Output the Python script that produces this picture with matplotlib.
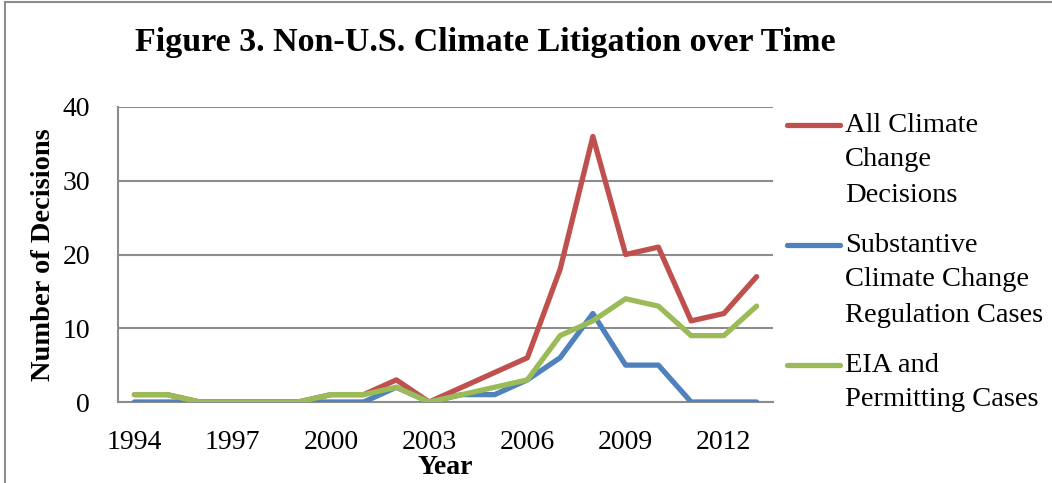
import matplotlib
matplotlib.use("Agg")
import matplotlib.pyplot as plt
from matplotlib.lines import Line2D
from matplotlib.patches import Rectangle

plt.rcParams["font.family"] = ["Liberation Serif", "DejaVu Serif"]

years = list(range(1994, 2014))
all_decisions = [1, 1, 0, 0, 0, 0, 1, 1, 3, 0, 2, 4, 6, 18, 36, 20, 21, 11, 12, 17]
substantive = [0, 0, 0, 0, 0, 0, 0, 0, 2, 0, 1, 1, 3, 6, 12, 5, 5, 0, 0, 0]
eia_permitting = [1, 1, 0, 0, 0, 0, 1, 1, 2, 0, 1, 2, 3, 9, 11, 14, 13, 9, 9, 13]
series_names = [["All Climate", "Change", "Decisions"],
                ["Substantive", "Climate Change", "Regulation Cases"],
                ["EIA and", "Permitting Cases"]]
colors = ["#C0504D", "#4F81BD", "#9BBB59"]
xtick_years = [1994, 1997, 2000, 2003, 2006, 2009, 2012]

W, H = 1052, 483
fig = plt.figure(figsize=(W / 100, H / 100), dpi=100)

# chart area border (cut off at right/bottom like the source)
fig.add_artist(Rectangle((5 / W, -0.1), 1.2, 1.1 - 2.5 / H, transform=fig.transFigure,
                         fill=False, edgecolor="#8c8c8c", linewidth=1.5))

ax = fig.add_axes([118 / W, (H - 402) / H, (773 - 118) / W, (402 - 107) / H])

for vals, c in zip([all_decisions, substantive, eia_permitting], colors):
    ax.plot(years, vals, color=c, linewidth=3.8, solid_capstyle="round",
            solid_joinstyle="round", zorder=3)

ax.set_xlim(1993.5, 2013.5)
ax.set_ylim(0, 40)
ax.set_yticks([0, 10, 20, 30, 40])
ax.set_xticks(xtick_years)
ax.grid(True, axis="y", color="#8c8c8c", linewidth=1.5)
ax.set_axisbelow(True)
for s in ["top", "right"]:
    ax.spines[s].set_visible(False)
for s in ["left", "bottom"]:
    ax.spines[s].set_color("#8c8c8c")
    ax.spines[s].set_linewidth(1.5)
ax.tick_params(length=0, labelsize=20, pad=20)
ax.tick_params(axis="x", pad=20)

ax.set_ylabel("Number of Decisions", fontsize=20.5, fontweight="bold", labelpad=5)
ax.set_xlabel("Year", fontsize=20, fontweight="bold", labelpad=0)

fig.text(485 / W, 1 - 42 / H, "Figure 3. Non-U.S. Climate Litigation over Time",
         fontsize=24.5, fontweight="bold", ha="center", va="center")

# legend, Excel style: key aligned to the first line of each entry
line_gap = 35
starts = [125, 245, 365]
for lines, c, y0 in zip(series_names, colors, starts):
    fig.add_artist(Line2D([787 / W, 840 / W], [1 - y0 / H, 1 - y0 / H], color=c,
                          linewidth=3.8, solid_capstyle="round", transform=fig.transFigure))
    for i, t in enumerate(lines):
        fig.text(845 / W, 1 - (y0 + i * line_gap) / H, t, fontsize=20.5,
                 ha="left", va="center")

fig.savefig("out.png", dpi=100)
